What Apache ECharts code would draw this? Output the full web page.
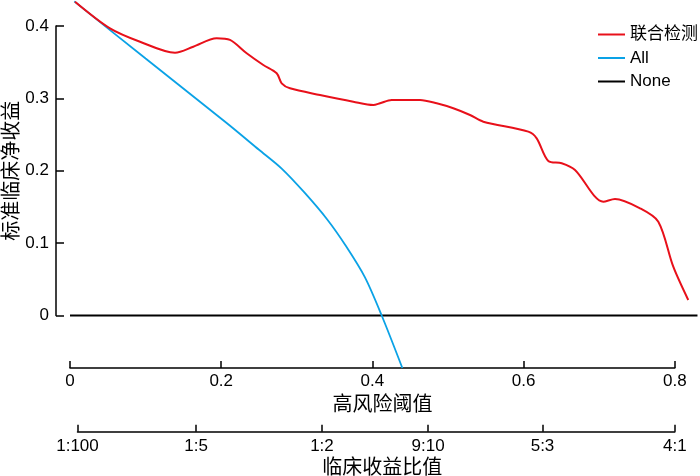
<!DOCTYPE html>
<html><head><meta charset="utf-8">
<script src="https://cdn.jsdelivr.net/npm/echarts@6/dist/echarts.min.js"></script>
<style>html,body{margin:0;padding:0;background:#fff}#c{width:700px;height:476px}</style>
</head><body><div id="c"></div>
<script>
// ---- data ----
const jointX = [0.0066,0.0529,0.0926,0.1389,0.1631,0.1940,0.2116,0.2337,0.2557,0.2734,0.2800,0.2910,0.3307,0.3747,0.4012,0.4101,0.4255,0.4630,0.4851,0.5070,0.5291,0.5467,0.6062,0.6173,0.6327,0.6504,0.6680,0.7054,0.7209,0.7540,0.7782,0.7980,0.8178];
const jointY = [0.4336,0.3968,0.3783,0.3631,0.3714,0.3830,0.3807,0.3623,0.3461,0.3347,0.3208,0.3139,0.3047,0.2954,0.2908,0.2932,0.2978,0.2978,0.2932,0.2863,0.2770,0.2678,0.2540,0.2448,0.2135,0.2103,0.2010,0.1572,0.1610,0.1481,0.1296,0.0674,0.0214];
const allX = [0.0057,0.1000,0.2072,0.2500,0.2800,0.3100,0.3400,0.3650,0.3900,0.4123,0.4396];
const allY = [0.4340,0.3550,0.2660,0.2290,0.2030,0.1700,0.1330,0.0960,0.0530,0.0000,-0.0725];
const noneX = [0, 0.83];
const noneY = [0, 0];
const riskTicks = [0, 0.2, 0.4, 0.6, 0.8];
const yTicks = [0, 0.1, 0.2, 0.3, 0.4];
const ratioTickValues = [0.0099, 0.1667, 0.3333, 0.4737, 0.625, 0.8];
const ratioTickLabels = ['1:100', '1:5', '1:2', '9:10', '5:3', '4:1'];
const seriesNames = ['联合检测', 'All', 'None'];

const zip = (xs, ys) => xs.map((x, i) => [x, ys[i]]);
const F = 'Liberation Sans, Arial, sans-serif';
const CJK = 'Noto Sans CJK SC, sans-serif';
const axisLine = {show: true, onZero: false, lineStyle: {color: '#000', width: 1.5}};
const tickStyle = {color: '#000', width: 1.5};
const PX = 756; // pixels per unit threshold (layout only)

const chart = echarts.init(document.getElementById('c'), null, {renderer: 'canvas'});
chart.setOption({
  animation: false,
  backgroundColor: '#fff',
  grid: [
    {left: 70, right: 700 - 70 - 0.83 * PX, top: 26, bottom: 160.5, containLabel: false, outerBoundsMode: 'none'},
    {left: 70, right: 700 - 70 - 0.8 * PX, top: 26, bottom: 160.5, containLabel: false, outerBoundsMode: 'none'},
    {left: 70 + 0.0099 * PX, right: 700 - 70 - 0.8 * PX, top: 400, bottom: 44.3, containLabel: false, outerBoundsMode: 'none'}
  ],
  legend: {
    orient: 'vertical', left: 598, top: 25, padding: 0,
    itemWidth: 27, itemHeight: 2, itemGap: 4.5,
    icon: 'rect',
    textStyle: {fontSize: 17, fontFamily: F + ',' + CJK, color: '#000', lineHeight: 19},
    data: seriesNames
  },
  xAxis: [
    {type: 'value', gridIndex: 0, min: 0, max: 0.83, show: false},
    {
      type: 'value', gridIndex: 1, min: 0, max: 0.8, interval: 0.2, offset: 52.5,
      position: 'bottom',
      axisLine: axisLine,
      axisTick: {show: true, inside: true, length: 7, lineStyle: tickStyle},
      axisLabel: {color: '#000', fontSize: 17, fontFamily: F, margin: 5,
        customValues: riskTicks, formatter: v => String(+v.toFixed(2))},
      splitLine: {show: false},
      name: '高风险阈值', nameLocation: 'middle', nameGap: 25, nameMoveOverlap: false,
      nameTextStyle: {fontSize: 20, fontFamily: CJK, color: '#000', padding: [0, 0, 0, 20]}
    },
    {
      type: 'value', gridIndex: 2, min: 0.0099, max: 0.8,
      position: 'bottom',
      axisLine: axisLine,
      axisTick: {show: true, inside: true, length: 7, customValues: ratioTickValues, lineStyle: tickStyle},
      axisLabel: {color: '#000', fontSize: 17, fontFamily: F, margin: 6,
        customValues: ratioTickValues,
        formatter: v => {
          let best = 0;
          ratioTickValues.forEach((t, i) => { if (Math.abs(t - v) < Math.abs(ratioTickValues[best] - v)) best = i; });
          return ratioTickLabels[best];
        }},
      splitLine: {show: false},
      name: '临床收益比值', nameLocation: 'middle', nameGap: 25, nameMoveOverlap: false,
      nameTextStyle: {fontSize: 20, fontFamily: CJK, color: '#000', padding: [0, 0, 0, 12]}
    }
  ],
  yAxis: [
    {
      type: 'value', gridIndex: 0, min: 0, max: 0.4, interval: 0.1, offset: 14,
      axisLine: axisLine,
      axisTick: {show: true, inside: true, length: 8, lineStyle: tickStyle},
      axisLabel: {color: '#000', fontSize: 17, fontFamily: F, margin: 7,
        customValues: yTicks, formatter: v => String(+v.toFixed(2))},
      splitLine: {show: false},
      name: '标准临床净收益', nameLocation: 'middle', nameGap: 36, nameRotate: 90, nameMoveOverlap: false,
      nameTextStyle: {fontSize: 20, fontFamily: CJK, color: '#000'}
    },
    {type: 'value', gridIndex: 1, show: false, min: 0, max: 1},
    {type: 'value', gridIndex: 2, show: false, min: 0, max: 1}
  ],
  series: [
    {name: seriesNames[0], type: 'line', xAxisIndex: 0, yAxisIndex: 0, data: zip(jointX, jointY),
      smooth: 0.3, showSymbol: false, clip: false, color: '#e8101a', lineStyle: {width: 2, color: '#e8101a'}, z: 3},
    {name: seriesNames[1], type: 'line', xAxisIndex: 0, yAxisIndex: 0, data: zip(allX, allY),
      smooth: 0.3, showSymbol: false, clip: false, color: '#0aa2e6', lineStyle: {width: 1.8, color: '#0aa2e6'}, z: 2},
    {name: seriesNames[2], type: 'line', xAxisIndex: 0, yAxisIndex: 0, data: zip(noneX, noneY),
      showSymbol: false, clip: false, color: '#000', lineStyle: {width: 1.8, color: '#000'}, z: 1}
  ]
});
</script></body></html>
